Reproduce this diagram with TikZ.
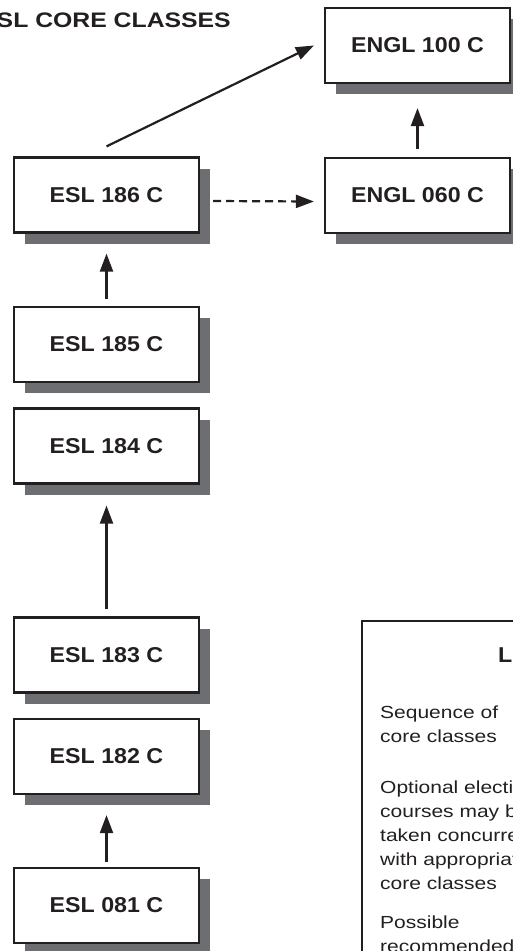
\documentclass[tikz,border=0pt]{standalone}
\usepackage{fontspec}
\setmainfont{Liberation Sans}[FakeStretch=1.08]
\newfontfamily\titlefont{Liberation Sans}[FakeStretch=1.18]
\newfontfamily\legfont{Liberation Sans}[FakeStretch=1.2]
\usetikzlibrary{arrows.meta,shadows}
\definecolor{ink}{HTML}{231F20}
\definecolor{shade}{HTML}{6D6E71}
\begin{document}
\begin{tikzpicture}[x=1pt,y=-1pt,>={Triangle[length=18pt,width=13pt]},
	course/.style={draw=ink,line width=2.2pt,fill=white,minimum width=185pt,minimum height=75pt,inner sep=0pt,
		text=ink,font=\fontsize{21.5}{24}\selectfont\bfseries,
		drop shadow={shadow xshift=11pt,shadow yshift=-11pt,fill=shade,opacity=1}},
	link/.style={draw=ink,line width=2.2pt,->},
	legtext/.style={anchor=base west,inner sep=0pt,align=left,text=ink,font=\legfont\fontsize{17.5}{24}\selectfont}]
	\useasboundingbox (0,0) rectangle (512,951);
	\node[anchor=base east,inner sep=0pt,text=ink,font=\titlefont\fontsize{21}{24}\selectfont\bfseries] (title) at (231,27) {ESL CORE CLASSES};
	\node[course] (e100) at (417.5,45.5) {ENGL 100 C};
	\node[course] (e060) at (417.5,195.5) {ENGL 060 C};
	\node[course] (e186) at (106.5,195) {ESL 186 C};
	\node[course] (e185) at (106.5,344.5) {ESL 185 C};
	\node[course] (e184) at (106.5,446) {ESL 184 C};
	\node[course] (e183) at (106.5,655) {ESL 183 C};
	\node[course] (e182) at (106.5,756.5) {ESL 182 C};
	\node[course] (e081) at (106.5,905.5) {ESL 081 C};
	\draw[link] ([yshift=10pt]e186.north) -- ([xshift=-10pt]e100.west);
	\draw[link,dashed,dash pattern=on 8pt off 5pt] ([xshift=13pt,yshift=-6pt]e186.east) -- ([xshift=-10pt,yshift=-6pt]e060.west);
	\draw[link] ([yshift=8pt]e060.north) -- ([yshift=-24pt]e100.south);
	\draw[link] ([yshift=7pt]e185.north) -- ([yshift=-20pt]e186.south);
	\draw[link] ([yshift=7pt]e183.north) -- ([yshift=-21pt]e184.south);
	\draw[link] ([yshift=5pt]e081.north) -- ([yshift=-20pt]e182.south);
	% legend
	\draw[ink,line width=2.2pt] (362,621) rectangle (640,1000);
	\node[anchor=base west,inner sep=0pt,text=ink,font=\fontsize{21.5}{24}\selectfont\bfseries] (legtitle) at (498,662) {LEGEND};
	\node[legtext] (seq) at (380,742) {Sequence of\\core classes};
	\node[legtext] (opt) at (380,889) {Optional elective\\courses may be\\taken concurrently\\with appropriate\\core classes};
	\node[legtext] (pos) at (380,952) {Possible\\recommended};
\end{tikzpicture}
\end{document}
